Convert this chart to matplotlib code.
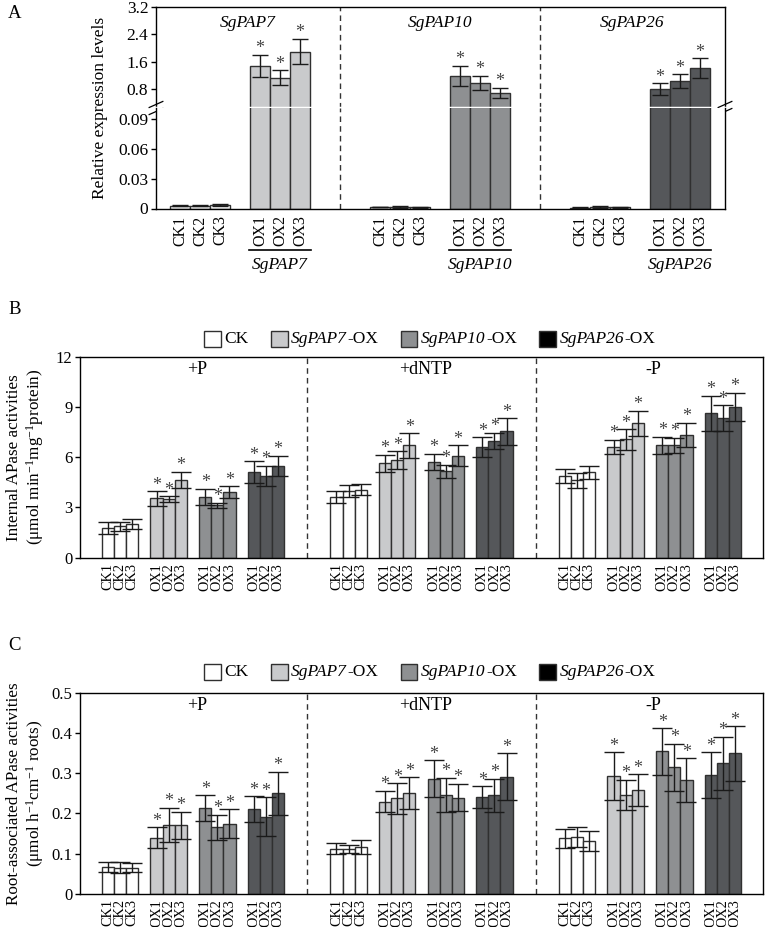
import numpy as np
import matplotlib
matplotlib.use("Agg")
import matplotlib.pyplot as plt
import matplotlib.transforms as mtransforms
from matplotlib.patches import Rectangle
from matplotlib.offsetbox import HPacker, TextArea, DrawingArea, AnchoredOffsetbox

plt.rcParams["font.family"] = ["Liberation Serif", "DejaVu Serif"]
plt.rcParams["mathtext.fontset"] = "custom"
plt.rcParams["mathtext.rm"] = "Liberation Serif"
plt.rcParams["mathtext.it"] = "Liberation Serif:italic"

# ---------------- data ----------------
# Panel A: relative expression levels
a_genes = ["SgPAP7", "SgPAP10", "SgPAP26"]
a_ticklabels = ["CK1", "CK2", "CK3", "OX1", "OX2", "OX3"]
a_ck_vals = [[0.0030, 0.0027, 0.0037], [0.0015, 0.0020, 0.0015], [0.0010, 0.0015, 0.0015]]
a_ck_errs = [[0.0008, 0.0006, 0.0008], [0.0004, 0.0010, 0.0005], [0.0003, 0.0006, 0.0005]]
a_ox_vals = [[1.48, 1.13, 1.90], [1.19, 0.99, 0.70], [0.80, 1.04, 1.41]]
a_ox_errs = [[0.33, 0.22, 0.37], [0.29, 0.20, 0.15], [0.18, 0.20, 0.29]]

# Panels B and C: lines x conditions
lines = ["CK", "SgPAP7", "SgPAP10", "SgPAP26"]
conditions = ["+P", "+dNTP", "-P"]
bar_labels = ["CK1", "CK2", "CK3", "OX1", "OX2", "OX3", "OX1", "OX2", "OX3", "OX1", "OX2", "OX3"]

# Panel B: internal APase activities
b_vals_p = [1.75, 1.87, 2.00, 3.54, 3.50, 4.64, 3.64, 3.12, 3.93, 5.10, 4.88, 5.47]
b_errs_p = [0.36, 0.27, 0.29, 0.44, 0.18, 0.50, 0.48, 0.16, 0.35, 0.65, 0.61, 0.62]
b_vals_dntp = [3.64, 3.98, 4.07, 5.63, 5.81, 6.70, 5.71, 5.15, 6.10, 6.59, 6.96, 7.54]
b_errs_dntp = [0.36, 0.36, 0.35, 0.52, 0.54, 0.72, 0.50, 0.40, 0.60, 0.60, 0.49, 0.80]
b_vals_np = [4.86, 4.62, 5.09, 6.60, 7.06, 8.03, 6.70, 6.72, 7.34, 8.62, 8.32, 9.01]
b_errs_np = [0.42, 0.46, 0.38, 0.43, 0.62, 0.75, 0.53, 0.45, 0.73, 1.06, 0.78, 0.85]

# Panel C: root-associated APase activities
c_vals_p = [0.067, 0.065, 0.065, 0.139, 0.171, 0.170, 0.213, 0.165, 0.174, 0.210, 0.192, 0.250]
c_errs_p = [0.012, 0.014, 0.011, 0.026, 0.043, 0.034, 0.032, 0.031, 0.036, 0.032, 0.048, 0.053]
c_vals_dntp = [0.112, 0.111, 0.117, 0.229, 0.237, 0.250, 0.286, 0.246, 0.239, 0.240, 0.245, 0.291]
c_errs_dntp = [0.013, 0.010, 0.017, 0.027, 0.038, 0.040, 0.046, 0.042, 0.034, 0.027, 0.041, 0.058]
c_vals_np = [0.138, 0.141, 0.131, 0.292, 0.246, 0.257, 0.354, 0.314, 0.283, 0.295, 0.324, 0.349]
c_errs_np = [0.024, 0.025, 0.024, 0.060, 0.038, 0.040, 0.058, 0.059, 0.054, 0.057, 0.066, 0.068]

# ---------------- style ----------------
FILL = ["#ffffff", "#c9cacc", "#8e9092", "#55575a"]
LEG_FILL = ["#ffffff", "#c9cacc", "#8e9092", "#000000"]
EDGE = "#303030"
ERR = "#1a1a1a"
STAR = "#444444"

W, H = 765, 927
fig = plt.figure(figsize=(W / 100, H / 100), dpi=100)


def rect(left, top, right, bottom):
    return [left / W, 1 - bottom / H, (right - left) / W, (bottom - top) / H]


def stars(ax, x, tops, size):
    for xi, t in zip(x, tops):
        ax.annotate("*", (xi, t), xytext=(0, -1.8), textcoords="offset points",
                    ha="center", va="bottom", fontsize=size, color=STAR)


# ---------------- panel A ----------------
ax_hi = fig.add_axes(rect(156, 7, 725, 108))
ax_lo = fig.add_axes(rect(156, 108, 725, 208.5))
a_div = [8, 18]
a_xlim = (-1.2, 27.25)

for g, gene in enumerate(a_genes):
    x = np.array([g * 10 + s for s in (0, 1, 2, 4, 5, 6)])
    vals = np.array(a_ck_vals[g] + a_ox_vals[g])
    errs = np.array(a_ck_errs[g] + a_ox_errs[g])
    cols = [FILL[0]] * 3 + [FILL[g + 1]] * 3
    for ax in (ax_hi, ax_lo):
        ax.bar(x, vals, width=1.0, color=cols, edgecolor=EDGE, linewidth=1.0, zorder=2)
        ax.errorbar(x, vals, yerr=errs, fmt="none", ecolor=ERR, elinewidth=1.0,
                    capsize=5.5, capthick=1.0, zorder=3)
    stars(ax_hi, x[3:], vals[3:] + errs[3:], 13)
    # underline + gene name below OX labels
    trans = mtransforms.blended_transform_factory(ax_lo.transData, ax_lo.transAxes)
    ax_lo.plot([x[3] - 0.55, x[5] + 0.55], [-0.413, -0.413], color="black", lw=1.2,
               transform=trans, clip_on=False)
    ax_lo.text(x[4], -0.56, gene, transform=trans, ha="center", va="center",
               fontsize=12.5, style="italic")

bounds = [a_xlim[0]] + a_div + [a_xlim[1]]
hi_trans = mtransforms.blended_transform_factory(ax_hi.transData, ax_hi.transAxes)
for g, gene in enumerate(a_genes):
    ax_hi.text((bounds[g] + bounds[g + 1]) / 2, 0.84, gene, transform=hi_trans,
               ha="center", va="center", fontsize=12.5, style="italic")

for ax in (ax_hi, ax_lo):
    ax.set_xlim(*a_xlim)
    for d in a_div:
        ax.axvline(d, color="#333333", lw=1.0, ls=(0, (4, 3)), zorder=1)
    for sp in ax.spines.values():
        sp.set_linewidth(1.0)
    ax.tick_params(axis="y", direction="out", length=3.5, width=1.0, labelsize=12.5, pad=2)

ax_hi.set_ylim(0.253, 3.2)
ax_hi.set_yticks([0.8, 1.6, 2.4, 3.2])
ax_hi.set_yticklabels(["0.8", "1.6", "2.4", "3.2"])
ax_hi.spines["bottom"].set_visible(False)
ax_hi.set_xticks([])

ax_lo.set_ylim(0, 0.1014)
ax_lo.set_yticks([0, 0.03, 0.06, 0.09])
ax_lo.set_yticklabels(["0", "0.03", "0.06", "0.09"])
ax_lo.spines["top"].set_visible(False)
ax_lo.set_xticks([g * 10 + s for g in range(3) for s in (0, 1, 2, 4, 5, 6)])
ax_lo.set_xticklabels(a_ticklabels * 3, rotation=90, fontsize=11.5)
ax_lo.tick_params(axis="x", length=0, pad=5)

# axis break: white gap across bars and // marks on spines
ax_hi.axhline(0.253, color="white", lw=2.5, zorder=6, clip_on=False)
for xa in (0, 1):
    for dy in (-0.035, 0.035):
        ax_hi.plot([xa - 0.012, xa + 0.012], [dy - 0.03, dy + 0.03], color="black", lw=0.9,
                   transform=ax_hi.transAxes, clip_on=False, zorder=7)

fig.text(99.5 / W, 1 - 108 / H, "Relative expression levels", rotation=90,
         ha="center", va="center", fontsize=12.5)
fig.text(8 / W, 1 - 14 / H, "A", ha="left", va="center", fontsize=13.5)


def add_legend(ycenter):
    items = []
    for k, name in enumerate(lines):
        da = DrawingArea(12, 12, 0, 0)
        da.add_artist(Rectangle((0, 0), 12, 12, facecolor=LEG_FILL[k], edgecolor=EDGE, linewidth=1.0))
        if k == 0:
            txt = TextArea(name, textprops=dict(fontsize=12.5))
        else:
            txt = HPacker(children=[TextArea(name, textprops=dict(fontsize=12.5, style="italic")),
                                    TextArea("-OX", textprops=dict(fontsize=12.5))],
                          align="baseline", pad=0, sep=0.5)
        items.append(HPacker(children=[da, txt], align="center", pad=0, sep=2.5))
    box = HPacker(children=items, align="center", pad=0, sep=16)
    anchored = AnchoredOffsetbox(loc="center", child=box, pad=0, borderpad=0, frameon=False,
                                 bbox_to_anchor=(430 / W, 1 - ycenter / H),
                                 bbox_transform=fig.transFigure)
    fig.add_artist(anchored)


# ---------------- panels B and C ----------------
G = 18.8


def activity_panel(top, bottom, vals_sets, errs_sets, ylim, yticks, yticklabels,
                   ylabel1, ylabel2, letter, legend_y):
    ax = fig.add_axes(rect(80, top, 763, bottom))
    ticks = []
    trans = mtransforms.blended_transform_factory(ax.transData, ax.transAxes)
    for c, cond in enumerate(conditions):
        vals = np.array(vals_sets[c])
        errs = np.array(errs_sets[c])
        x = np.array([c * G + s * 4 + i for s in range(4) for i in range(3)])
        cols = [FILL[s] for s in range(4) for i in range(3)]
        ax.bar(x, vals, width=1.0, color=cols, edgecolor=EDGE, linewidth=1.0, zorder=2)
        ax.errorbar(x, vals, yerr=errs, fmt="none", ecolor=ERR, elinewidth=1.0,
                    capsize=7, capthick=1.0, zorder=3)
        stars(ax, x[3:], vals[3:] + errs[3:], 13)
        ticks.extend(x)
        ax.text(c * G + 7.3, 0.935, cond, transform=trans, ha="center", va="center", fontsize=13)
        if c < 2:
            ax.axvline(c * G + 16.4, color="#333333", lw=1.0, ls=(0, (4, 3)), zorder=1)
    ax.set_xlim(-2.3, 2 * G + 16.3)
    ax.set_ylim(*ylim)
    ax.set_yticks(yticks)
    ax.set_yticklabels(yticklabels)
    ax.set_xticks(ticks)
    ax.set_xticklabels(bar_labels * 3, rotation=90, fontsize=10.3)
    ax.tick_params(axis="x", length=0, pad=4)
    ax.tick_params(axis="y", direction="out", length=3.5, width=1.0, labelsize=12, pad=2)
    for sp in ax.spines.values():
        sp.set_linewidth(1.0)
    yc = 1 - (top + bottom) / 2 / H
    fig.text(14 / W, yc, ylabel1, rotation=90, ha="center", va="center", fontsize=12.3)
    fig.text(35 / W, yc, ylabel2, rotation=90, ha="center", va="center", fontsize=12.3)
    fig.text(8 / W, 1 - (top - 47) / H, letter, ha="left", va="center", fontsize=13.5)
    add_legend(legend_y)
    return ax


activity_panel(356.7, 557.7, [b_vals_p, b_vals_dntp, b_vals_np],
               [b_errs_p, b_errs_dntp, b_errs_np], (0, 12), [0, 3, 6, 9, 12],
               ["0", "3", "6", "9", "12"], "Internal APase activities",
               r"(μmol min$^{-1}$mg$^{-1}$protein)", "B", 339)

activity_panel(692.7, 893.7, [c_vals_p, c_vals_dntp, c_vals_np],
               [c_errs_p, c_errs_dntp, c_errs_np], (0, 0.5), [0, 0.1, 0.2, 0.3, 0.4, 0.5],
               ["0", "0.1", "0.2", "0.3", "0.4", "0.5"], "Root-associated APase activities",
               r"(μmol h$^{-1}$cm$^{-1}$ roots)", "C", 672)

fig.savefig("out.png", dpi=100)
